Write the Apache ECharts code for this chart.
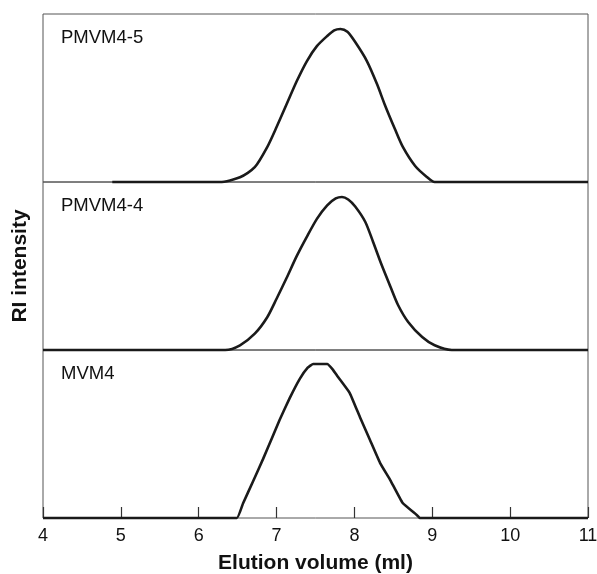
<!DOCTYPE html>
<html>
<head>
<meta charset="utf-8">
<style>
  html, body { margin: 0; padding: 0; background: #fff; }
  #chart { width: 597px; height: 574px; }
</style>
<script src="https://cdn.jsdelivr.net/npm/echarts@6/dist/echarts.min.js"></script>
</head>
<body>
<div id="chart"></div>
<script>
// GPC traces: elution volume (ml) vs refractive-index signal (arbitrary units, 0-100 per panel)
const sampleNames = ['PMVM4-5', 'PMVM4-4', 'MVM4'];

const pmvm45Vol = [4.89, 6.27, 6.53, 6.72, 6.88, 7.00, 7.13, 7.26, 7.39, 7.52, 7.65, 7.74, 7.82, 7.91, 8.01, 8.16, 8.29, 8.39, 8.52, 8.62, 8.78, 8.93, 9.03, 11.0];
const pmvm45RI  = [0, 0, 2.8, 8.8, 20.8, 32.7, 46.4, 60.1, 72.0, 81.0, 86.9, 90.3, 91.1, 89.4, 83.3, 72.0, 58.3, 46.0, 31.5, 21.0, 9.5, 3.0, 0, 0];

const pmvm44Vol = [4.0, 6.34, 6.53, 6.72, 6.88, 7.00, 7.13, 7.26, 7.39, 7.52, 7.65, 7.76, 7.84, 7.92, 8.01, 8.14, 8.24, 8.35, 8.46, 8.56, 8.69, 8.87, 9.03, 9.25, 11.0];
const pmvm44RI  = [0, 0, 2.8, 9.7, 19.5, 30.5, 43.0, 56.0, 67.5, 78.2, 86.1, 90.2, 91.1, 89.6, 85.4, 76.2, 64.3, 50.6, 38.0, 26.8, 16.7, 7.7, 2.8, 0, 0];

const mvm4Vol = [4.0, 6.49, 6.57, 6.70, 6.83, 6.94, 7.04, 7.17, 7.30, 7.40, 7.47, 7.65, 7.72, 7.79, 7.94, 8.07, 8.20, 8.33, 8.46, 8.62, 8.80, 8.84, 11.0];
const mvm4RI  = [0, 0, 8.8, 22.0, 35.5, 47.5, 58.5, 71.5, 83.0, 89.5, 91.7, 91.7, 88.5, 83.9, 74.4, 60.1, 46.4, 32.7, 22.6, 8.9, 1.8, 0, 0];

const xTicks = [4, 5, 6, 7, 8, 9, 10, 11];

const traces = [
  [pmvm45Vol, pmvm45RI],
  [pmvm44Vol, pmvm44RI],
  [mvm4Vol, mvm4RI]
];
// the two copolymer traces are smooth; the MVM4 trace is more angular
const smoothing = [0.25, 0.25, 0.1];

const FONT = '"Liberation Sans", Arial, Helvetica, sans-serif';
const panelTop = 14, panelH = 168, plotLeft = 43, plotRight = 9;

const chart = echarts.init(document.getElementById('chart'), null, { renderer: 'canvas' });

const grids = [], xAxes = [], yAxes = [], series = [], labels = [];
traces.forEach(([vol, ri], i) => {
  const isBottom = i === traces.length - 1;
  grids.push({
    left: plotLeft, right: plotRight, top: panelTop + i * panelH, height: panelH,
    outerBoundsMode: 'none', containLabel: false,
    show: true, borderColor: '#555', borderWidth: 1, backgroundColor: 'transparent'
  });
  xAxes.push({
    type: 'value', gridIndex: i, min: xTicks[0], max: xTicks[xTicks.length - 1], interval: 1,
    axisLine: { show: false },
    splitLine: { show: false },
    axisTick: { show: isBottom, inside: true, length: 11, lineStyle: { color: '#333', width: 1.2 } },
    axisLabel: {
      show: isBottom, margin: 9, fontSize: 18, color: '#111', fontFamily: FONT,
      customValues: xTicks, hideOverlap: false
    },
    name: isBottom ? 'Elution volume (ml)' : '',
    nameLocation: 'middle', nameGap: 35,
    nameTextStyle: { fontSize: 21, fontWeight: 'bold', color: '#111', fontFamily: FONT }
  });
  yAxes.push({
    type: 'value', gridIndex: i, min: 0, max: 100,
    axisLine: { show: false }, axisTick: { show: false }, axisLabel: { show: false },
    splitLine: { show: false },
    name: i === 1 ? 'RI intensity' : '',
    nameLocation: 'middle', nameGap: 12, nameRotate: 90,
    nameTextStyle: { fontSize: 21, fontWeight: 'bold', color: '#111', fontFamily: FONT }
  });
  series.push({
    type: 'line', xAxisIndex: i, yAxisIndex: i,
    data: vol.map((v, k) => [v, ri[k]]),
    showSymbol: false, symbol: 'none', smooth: smoothing[i], clip: false,
    lineStyle: { color: '#1a1a1a', width: 2.6, join: 'round' },
    animation: false, silent: true
  });
  labels.push({
    type: 'text', left: 61, top: panelTop + i * panelH + 14,
    style: { text: sampleNames[i], font: '18.5px ' + FONT, fill: '#111' }
  });
});

chart.setOption({
  animation: false,
  grid: grids,
  xAxis: xAxes,
  yAxis: yAxes,
  series: series,
  graphic: labels
});
</script>
</body>
</html>
